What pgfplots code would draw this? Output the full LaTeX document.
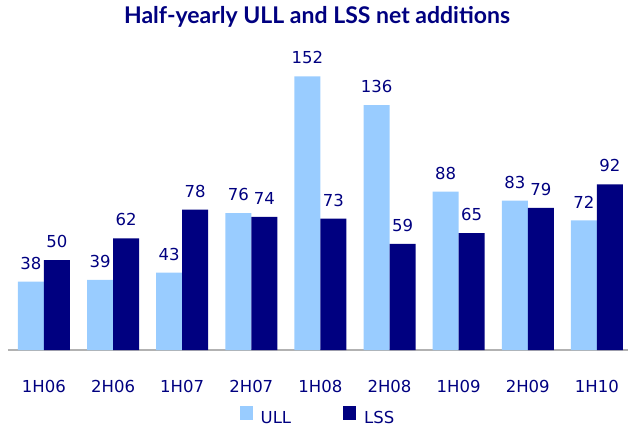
\documentclass[border=0pt]{standalone}
\usepackage{fontspec}
\setmainfont{DejaVu Sans}
\newfontfamily\titlefont{Lato}
\usepackage{pgfplots}
\pgfplotsset{compat=1.18}
\definecolor{ullblue}{HTML}{99CCFF}
\definecolor{lssnavy}{HTML}{000080}
\definecolor{txtnavy}{HTML}{000080}

\begin{document}
\begin{tikzpicture}
\begin{axis}[
    scale only axis,
    width=620pt,
    height=288pt,
    ymin=0, ymax=160,
    xmin=-0.52, xmax=8.45,
    /pgf/number format/assume math mode=true,
    axis y line=none,
    axis x line*=bottom,
    x axis line style={draw=black!30, line width=1.6pt, -},
    xtick=data,
    xticklabels={1H06,2H06,1H07,2H07,1H08,2H08,1H09,2H09,1H10},
    major tick length=0pt,
    xticklabel style={font=\fontsize{16.5}{18}\selectfont, text=txtnavy, anchor=base, yshift=-42pt},
    ybar,
    bar width=26pt,
    clip=false,
    nodes near coords,
    every node near coord/.append style={font=\fontsize{16.5}{18}\selectfont, text=txtnavy, inner sep=0pt, anchor=south, yshift=12pt},
    title={Half-yearly ULL and LSS net additions},
    title style={font=\titlefont\bfseries\fontsize{23}{26}\selectfont, text=txtnavy, at={(0.5,1)}, anchor=base, yshift=32pt, xshift=-1pt},
    legend columns=2,
    legend style={draw=none, at={(0.5,0)}, anchor=north, yshift=-56pt, xshift=0pt,
        font=\fontsize{16.5}{18}\selectfont, text=txtnavy, inner sep=0pt,
        /tikz/every odd column/.append style={column sep=6pt},
        /tikz/every even column/.append style={column sep=50pt}},
    legend image code/.code={\fill[#1,draw=none] (0pt,-2pt) rectangle (13pt,12pt);},
]
\addplot[fill=ullblue, draw=none, bar shift=-13pt] coordinates {
    (0,38) (1,39) (2,43) (3,76) (4,152) (5,136) (6,88) (7,83) (8,72)};
\addplot[fill=lssnavy, draw=none, bar shift=13pt] coordinates {
    (0,50) (1,62) (2,78) (3,74) (4,73) (5,59) (6,65) (7,79) (8,92)};
\legend{ULL,LSS}
\end{axis}
\pgfresetboundingbox
\path ([xshift=-8pt,yshift=-76pt]current axis.south west) rectangle ([yshift=62pt]current axis.north east);
\end{tikzpicture}
\end{document}
